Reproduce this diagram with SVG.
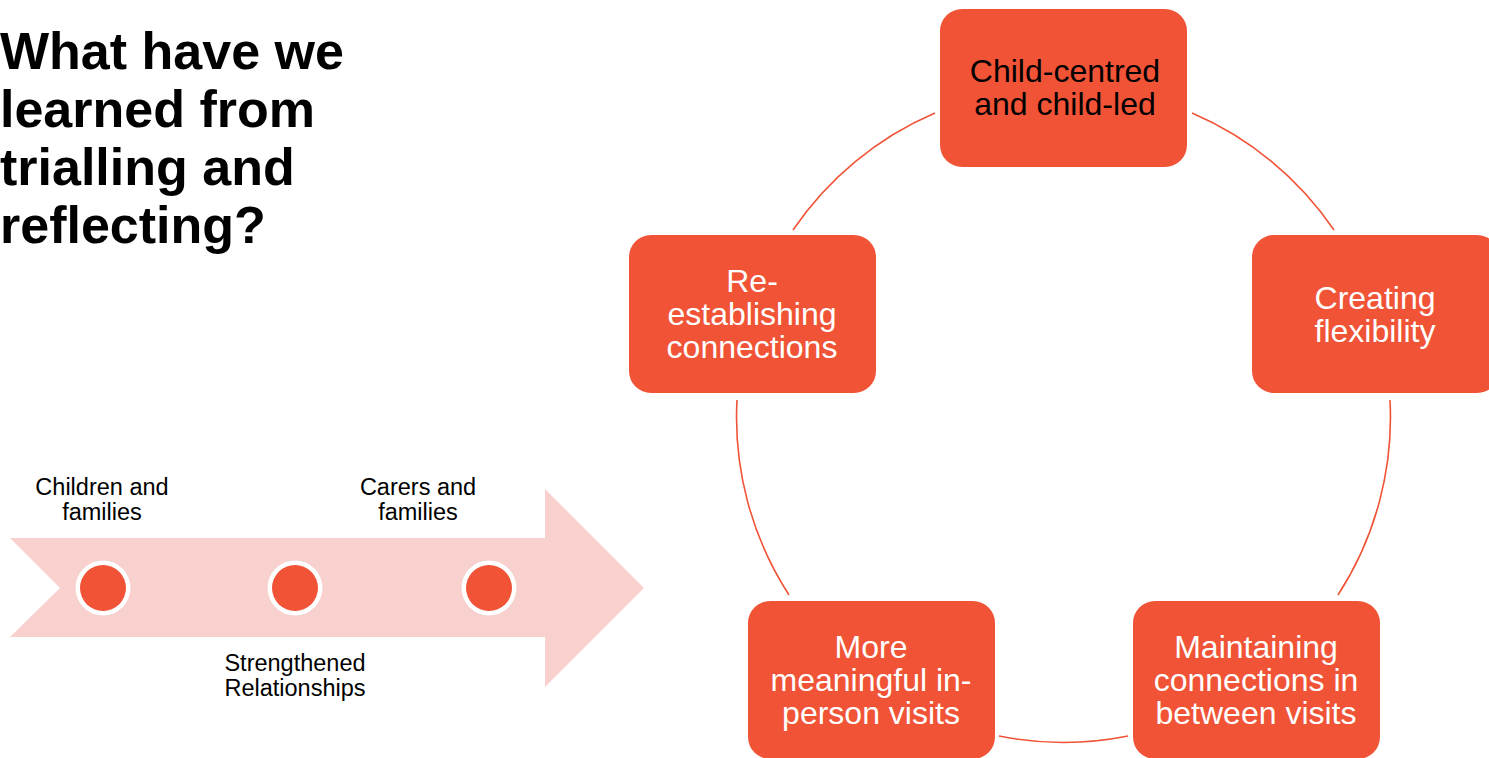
<svg xmlns="http://www.w3.org/2000/svg" width="1489" height="758" viewBox="0 0 1489 758">
  <style>
    .title { font-family: "Liberation Sans", Arial, sans-serif; font-weight: bold; font-size: 52px; fill: #000; }
    .label { font-family: "Liberation Sans", Arial, sans-serif; font-size: 23.5px; fill: #000; text-anchor: middle; }
    .box { fill: #F05336; }
    .boxText { font-family: "Liberation Sans", Arial, sans-serif; font-size: 32px; fill: #fff; text-anchor: middle; }
    .dark { fill: #000; }
    .arc { fill: none; stroke: #F05336; stroke-width: 1.6; }
    .dotRing { fill: #fff; }
    .dot { fill: #F05336; }
  </style>

  <!-- heading -->
  <g id="heading">
    <text class="title" x="0" y="69">What have we</text>
    <text class="title" x="0" y="127">learned from</text>
    <text class="title" x="0" y="185">trialling and</text>
    <text class="title" x="0" y="243">reflecting?</text>
  </g>

  <!-- timeline arrow -->
  <g id="timeline">
    <polygon points="10,538 545,538 545,489 644,588 545,687 545,637 10,637 60,588" fill="#F8D0CE"/>
    <g id="dot-1">
      <circle class="dotRing" cx="103" cy="588" r="27.5"/>
      <circle class="dot" cx="103" cy="588" r="23"/>
    </g>
    <g id="dot-2">
      <circle class="dotRing" cx="295" cy="588" r="27.5"/>
      <circle class="dot" cx="295" cy="588" r="23"/>
    </g>
    <g id="dot-3">
      <circle class="dotRing" cx="489" cy="588" r="27.5"/>
      <circle class="dot" cx="489" cy="588" r="23"/>
    </g>
    <text class="label" x="102" y="495">Children and</text>
    <text class="label" x="102" y="520">families</text>
    <text class="label" x="418" y="495">Carers and</text>
    <text class="label" x="418" y="520">families</text>
    <text class="label" x="295" y="671">Strengthened</text>
    <text class="label" x="295" y="696">Relationships</text>
  </g>

  <!-- cycle connectors: arcs of one circle, centre (1063.5, 415), r 327 -->
  <g id="connectors">
    <path class="arc" d="M 793 230 A 327 327 0 0 1 935 113"/>
    <path class="arc" d="M 1192 113 A 327 327 0 0 1 1334 230"/>
    <path class="arc" d="M 1390 400 A 327 327 0 0 1 1338 595"/>
    <path class="arc" d="M 1128 736 A 327 327 0 0 1 999 736"/>
    <path class="arc" d="M 789 595 A 327 327 0 0 1 737 400"/>
  </g>

  <!-- cycle nodes -->
  <g id="node-child-centred">
    <rect class="box" x="940" y="9" width="247" height="158" rx="22"/>
    <text class="boxText dark" x="1065" y="82">Child-centred</text>
    <text class="boxText dark" x="1065" y="115">and child-led</text>
  </g>
  <g id="node-flexibility">
    <rect class="box" x="1252" y="235" width="247" height="158" rx="22"/>
    <text class="boxText" x="1375" y="309">Creating</text>
    <text class="boxText" x="1375" y="342">flexibility</text>
  </g>
  <g id="node-maintaining">
    <rect class="box" x="1133" y="601" width="247" height="158" rx="22"/>
    <text class="boxText" x="1256" y="658">Maintaining</text>
    <text class="boxText" x="1256" y="691">connections in</text>
    <text class="boxText" x="1256" y="724">between visits</text>
  </g>
  <g id="node-in-person">
    <rect class="box" x="748" y="601" width="247" height="158" rx="22"/>
    <text class="boxText" x="871" y="658">More</text>
    <text class="boxText" x="871" y="691">meaningful in-</text>
    <text class="boxText" x="871" y="724">person visits</text>
  </g>
  <g id="node-re-establishing">
    <rect class="box" x="629" y="235" width="247" height="158" rx="22"/>
    <text class="boxText" x="752" y="292">Re-</text>
    <text class="boxText" x="752" y="325">establishing</text>
    <text class="boxText" x="752" y="358">connections</text>
  </g>
</svg>
